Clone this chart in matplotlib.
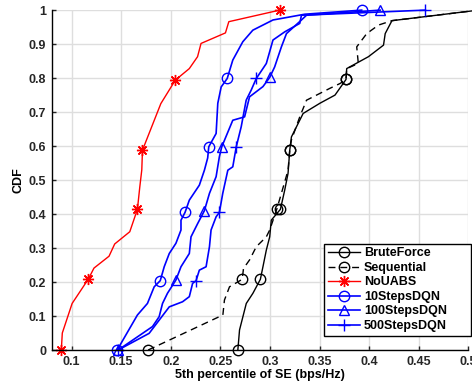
import numpy as np
import matplotlib.pyplot as plt

plt.rcParams['font.family'] = ['Liberation Sans', 'DejaVu Sans']
plt.rcParams['font.weight'] = 'bold'
plt.rcParams['font.size'] = 9

# curves (x = 5th percentile SE, y = CDF)
brute_x = [0.2676, 0.2693, 0.2727, 0.2761, 0.2828, 0.2903, 0.2929, 0.2963, 0.2997, 0.3013,
           0.3105, 0.3148, 0.3182, 0.3199, 0.3216, 0.3334, 0.3503, 0.3655, 0.3766, 0.3773,
           0.3992, 0.4144, 0.4161, 0.4229, 0.51]
brute_y = [0.0, 0.059, 0.098, 0.137, 0.167, 0.208, 0.245, 0.294, 0.333, 0.382,
           0.414, 0.47, 0.52, 0.588, 0.627, 0.696, 0.726, 0.75, 0.796, 0.828,
           0.863, 0.897, 0.931, 0.969, 1.0]
brute_m = [0, 5, 10, 13, 18]

seq_x = [0.1772, 0.2525, 0.2541, 0.2592, 0.2720, 0.2733, 0.2794, 0.2862, 0.2963, 0.2997,
         0.3068, 0.3115, 0.3182, 0.3199, 0.3216, 0.3300, 0.3368, 0.3604, 0.3705, 0.3766,
         0.3773, 0.3890, 0.3874, 0.3975, 0.4093, 0.4229, 0.51]
seq_y = [0.0, 0.103, 0.147, 0.186, 0.208, 0.24, 0.265, 0.304, 0.333, 0.353,
         0.414, 0.461, 0.529, 0.588, 0.618, 0.686, 0.735, 0.77, 0.784, 0.796,
         0.828, 0.843, 0.892, 0.931, 0.956, 0.969, 1.0]
seq_m = [0, 4, 10, 13, 19]

nouabs_x = [0.0897, 0.0907, 0.1006, 0.1170, 0.1226, 0.1378, 0.1435, 0.1587, 0.1664, 0.1688,
            0.1708, 0.1715, 0.1900, 0.2046, 0.2187, 0.2270, 0.2305, 0.2551, 0.2585, 0.3098]
nouabs_y = [0.0, 0.05, 0.137, 0.209, 0.241, 0.276, 0.312, 0.348, 0.414, 0.48,
            0.53, 0.588, 0.725, 0.794, 0.828, 0.863, 0.902, 0.933, 0.966, 1.0]
nouabs_m = [0, 3, 8, 11, 13, 19]

dqn10_x = [0.1460, 0.1664, 0.1765, 0.1833, 0.1894, 0.1934, 0.1985, 0.2052, 0.2103, 0.2103,
           0.2144, 0.2187, 0.2288, 0.2339, 0.2372, 0.2383, 0.2457, 0.2474, 0.2508, 0.2569,
           0.2625, 0.2726, 0.2827, 0.3030, 0.3351, 0.3924]
dqn10_y = [0.0, 0.103, 0.137, 0.186, 0.204, 0.245, 0.284, 0.314, 0.353, 0.382,
           0.405, 0.441, 0.485, 0.529, 0.565, 0.598, 0.637, 0.726, 0.774, 0.799,
           0.853, 0.907, 0.941, 0.971, 0.988, 1.0]
dqn10_m = [0, 4, 10, 15, 19, 25]

dqn100_x = [0.1470, 0.1816, 0.1883, 0.1917, 0.1967, 0.2052, 0.2103, 0.2187, 0.2204, 0.2271,
            0.2339, 0.2390, 0.2457, 0.2490, 0.2514, 0.2625, 0.2744, 0.2794, 0.2929, 0.2997,
            0.3047, 0.3115, 0.3166, 0.3317, 0.3368, 0.4110]
dqn100_y = [0.0, 0.069, 0.098, 0.137, 0.167, 0.206, 0.245, 0.284, 0.333, 0.372,
            0.41, 0.461, 0.51, 0.569, 0.598, 0.676, 0.686, 0.745, 0.775, 0.802,
            0.833, 0.892, 0.931, 0.971, 0.985, 1.0]
dqn100_m = [0, 5, 10, 14, 19, 25]

dqn500_x = [0.1470, 0.1782, 0.1985, 0.2119, 0.2187, 0.2220, 0.2255, 0.2288, 0.2356, 0.2390,
            0.2406, 0.2457, 0.2490, 0.2524, 0.2575, 0.2625, 0.2660, 0.2710, 0.2760, 0.2811,
            0.2862, 0.2963, 0.3030, 0.3148, 0.3300, 0.3317, 0.4565]
dqn500_y = [0.0, 0.049, 0.127, 0.142, 0.157, 0.196, 0.204, 0.235, 0.245, 0.304,
            0.353, 0.392, 0.405, 0.461, 0.529, 0.539, 0.598, 0.657, 0.735, 0.765,
            0.799, 0.843, 0.912, 0.936, 0.961, 0.985, 1.0]
dqn500_m = [0, 6, 12, 16, 20, 26]

fig = plt.figure(figsize=(4.72, 3.88), dpi=100)
ax = fig.add_axes([0.1095, 0.0979, 0.883, 0.876])

ax.plot(brute_x, brute_y, color='k', lw=1.0, marker='o', ms=7.5, mfc='none', mew=1.0,
        markevery=brute_m, clip_on=False, label='BruteForce')
ax.plot(seq_x, seq_y, color='k', lw=1.0, ls=(0, (5, 3.5)), marker='o', ms=7.5, mfc='none', mew=1.0,
        markevery=seq_m, clip_on=False, label='Sequential')
ax.plot(nouabs_x, nouabs_y, color='r', lw=1.0, marker=(8, 2, 0), ms=8, mew=1.0,
        markevery=nouabs_m, clip_on=False, label='NoUABS')
ax.plot(dqn10_x, dqn10_y, color='b', lw=1.2, marker='o', ms=7.5, mfc='none', mew=1.0,
        markevery=dqn10_m, clip_on=False, label='10StepsDQN')
ax.plot(dqn100_x, dqn100_y, color='b', lw=1.2, marker='^', ms=7.5, mfc='none', mew=1.0,
        markevery=dqn100_m, clip_on=False, label='100StepsDQN')
ax.plot(dqn500_x, dqn500_y, color='b', lw=1.2, marker='+', ms=9, mew=1.0,
        markevery=dqn500_m, clip_on=False, label='500StepsDQN')

ax.set_xlim(0.08, 0.5)
ax.set_ylim(0, 1)
ax.set_xticks([0.1, 0.15, 0.2, 0.25, 0.3, 0.35, 0.4, 0.45, 0.5])
ax.set_xticklabels(['0.1', '0.15', '0.2', '0.25', '0.3', '0.35', '0.4', '0.45', '0.5'])
ax.set_yticks(np.arange(0, 1.01, 0.1))
ax.set_yticklabels(['0', '0.1', '0.2', '0.3', '0.4', '0.5', '0.6', '0.7', '0.8', '0.9', '1'])
ax.grid(True, color='#dedede', lw=1.0)
ax.set_axisbelow(True)
ax.spines['top'].set_visible(False)
ax.spines['right'].set_visible(False)
ax.spines['left'].set_linewidth(1.0)
ax.spines['bottom'].set_linewidth(1.0)
ax.tick_params(direction='in', length=3, width=1.0, pad=4, colors='#262626')
ax.set_xlabel('5th percentile of SE (bps/Hz)', fontweight='bold', labelpad=1)
ax.set_ylabel('CDF', fontweight='bold', labelpad=3)

leg = ax.legend(loc='lower left', bbox_to_anchor=(0.653, 0.042, 0.352, 0.27), mode='expand',
                fancybox=False, edgecolor='k', framealpha=1, handlelength=2.6,
                handletextpad=0.3, labelspacing=0.2, borderpad=0.3, borderaxespad=0)
leg.get_frame().set_linewidth(1.0)

fig.savefig('out.png', dpi=100)
